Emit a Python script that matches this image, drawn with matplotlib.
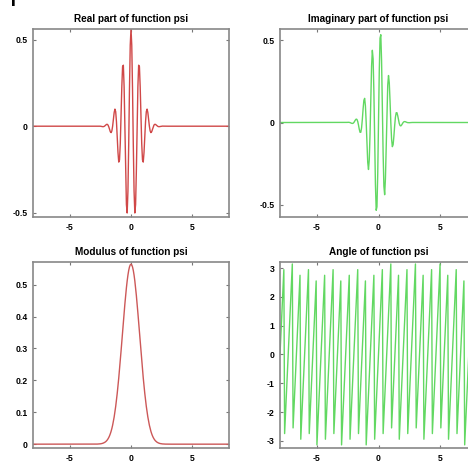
import numpy as np
import matplotlib
matplotlib.use("Agg")
import matplotlib.pyplot as plt

# complex Morlet wavelet, sampled like cmorwavf(lb, ub, n, fb, fc)
lb, ub, n = -8, 8, 257
fb, fc = 1.0, 1.5

x = np.linspace(lb, ub, n)
psi = (np.pi * fb) ** -0.5 * np.exp(2j * np.pi * fc * x) * np.exp(-x ** 2 / fb)

titles = ["Real part of function psi", "Imaginary part of function psi",
          "Modulus of function psi", "Angle of function psi"]
series = [psi.real, psi.imag, np.abs(psi), np.angle(psi)]
yticks = [[-0.5, 0, 0.5], [-0.5, 0, 0.5],
          [0, 0.1, 0.2, 0.3, 0.4, 0.5], [-3, -2, -1, 0, 1, 2, 3]]
ylims = [(-0.525, 0.562), (-0.575, 0.569), (-0.012, 0.571), (-3.25, 3.21)]
xticks = [-5, 0, 5]

colors = ["#d04848", "#62d862", "#cc5858", "#62d862"]

plt.rcParams['font.family'] = ['Liberation Sans', 'DejaVu Sans']
plt.rcParams['axes.unicode_minus'] = False

W, H = 468, 462
fig = plt.figure(figsize=(W / 100, H / 100), dpi=100)

# axes boxes in pixels: left, top, right, bottom (right column runs off the picture)
boxes = [(33, 29, 229, 217), (280, 29, 477, 217),
         (33, 262, 229, 448), (280, 262, 477, 448)]

for i in range(4):
    l, t, r, b = boxes[i]
    ax = fig.add_axes([l / W, 1 - b / H, (r - l) / W, (b - t) / H])
    ax.plot(x, series[i], color=colors[i], linewidth=1.0)
    ax.set_xlim(lb, ub)
    ax.set_ylim(*ylims[i])
    ax.set_xticks(xticks)
    ax.set_yticks(yticks[i])
    ax.set_yticklabels([("%g" % v) for v in yticks[i]])
    ax.set_title(titles[i], fontsize=7.2, fontweight='bold', pad=5)
    ax.tick_params(direction='in', top=True, right=True, length=2.5, width=0.8,
                   color='#777777', labelsize=6.2, pad=4)
    for lab in ax.get_xticklabels() + ax.get_yticklabels():
        lab.set_fontweight('bold')
    for sp in ax.spines.values():
        sp.set_color('#888888')
        sp.set_linewidth(1.2)

# descender of a cropped line of text above the figure
fig.text(9 / W, 1 + 1 / H, "p", fontsize=22, va='baseline')

fig.savefig("out.png", dpi=100)
